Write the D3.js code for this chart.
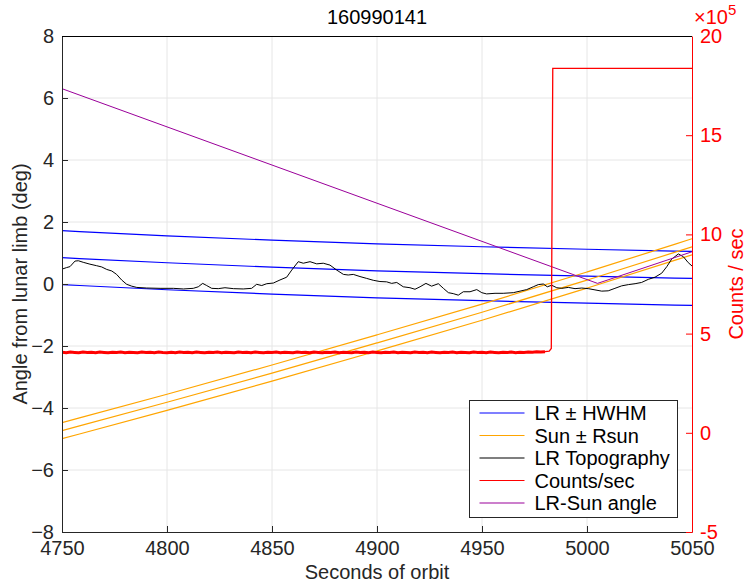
<!DOCTYPE html>
<html>
<head>
<meta charset="utf-8">
<script src="https://cdn.jsdelivr.net/npm/d3@7"></script>
<style>
    body { margin: 0; background: #fff; }
    #chart { width: 746px; height: 588px; }
    text { font-family: "Liberation Sans", Arial, Helvetica, sans-serif; }
</style>
</head>
<body>
<div id="chart"></div>
<script>

// ---- data ----
const chartTitle = "160990141";

const timeTicks = [4750, 4800, 4850, 4900, 4950, 5000, 5050];
const angleTicks = [-8, -6, -4, -2, 0, 2, 4, 6, 8];
const countTicks = [-5e5, 0, 5e5, 10e5, 15e5, 20e5];

// lunar limb (LR) centre and half width
const lrTime = [4750, 4800, 4850, 4900, 4950, 5000, 5050];
const lrCenter = [0.85, 0.68, 0.54, 0.42, 0.33, 0.25, 0.18];
const lrHwhm = 0.87;

// sun centre and radius
const sunTime = [4750, 4800, 4850, 4900, 4950, 5000, 5050];
const sunCenter = [-4.73, -3.82, -2.88, -1.90, -0.92, 0.12, 1.20];
const rSun = 0.26;

// LR topography
const topoTime = [4750, 4752.2, 4753.8, 4756.2, 4757.8, 4760.1, 4763.3, 4766.5, 4768.9, 4771.3,
    4773.7, 4776, 4778.4, 4780.8, 4783.2, 4785.6, 4790.3, 4796.7, 4803, 4807.8,
    4812.5, 4814.9, 4817, 4818.9, 4821.3, 4824.4, 4827.6, 4831.6, 4836.3, 4840.3,
    4842.7, 4845.1, 4847.5, 4850.6, 4853.8, 4857, 4859.4, 4862.5, 4864.9, 4868.1,
    4871.3, 4874.4, 4877.6, 4880.8, 4884, 4886.3, 4888.7, 4891.9, 4895.1, 4898.2,
    4901.4, 4904.6, 4907, 4909.4, 4912.5, 4915.7, 4918.1, 4920.5, 4923.3, 4926,
    4929.2, 4931.6, 4934, 4936.3, 4938.7, 4941.1, 4944.3, 4947.5, 4949.9, 4952.2,
    4956.2, 4960.1, 4964.9, 4968.1, 4971.3, 4974.4, 4976.8, 4979.2, 4981.1, 4983.2,
    4985.6, 4988, 4991.1, 4994.3, 4997.5, 5000.6, 5003.8, 5007, 5010.1, 5013.3,
    5016.5, 5019.7, 5022.9, 5026, 5029.2, 5032.4, 5035.6, 5038, 5040.3, 5043.5,
    5045.9, 5048.2, 5050];
const topoAngle = [0.48, 0.53, 0.56, 0.74, 0.75, 0.70, 0.64, 0.59, 0.55, 0.47,
    0.42, 0.31, 0.13, -0.01, -0.07, -0.11, -0.13, -0.14, -0.14, -0.16,
    -0.14, -0.09, 0.02, -0.05, -0.14, -0.15, -0.12, -0.15, -0.16, -0.14,
    -0.01, -0.05, 0.01, 0.03, 0.13, 0.22, 0.45, 0.72, 0.67, 0.72,
    0.65, 0.67, 0.61, 0.45, 0.31, 0.29, 0.31, 0.24, 0.18, 0.12,
    0.08, 0.07, 0.02, 0.05, -0.09, -0.12, -0.17, -0.09, 0.02, -0.07,
    0.01, -0.14, -0.28, -0.31, -0.36, -0.25, -0.25, -0.18, -0.28, -0.32,
    -0.30, -0.30, -0.28, -0.23, -0.18, -0.09, -0.02, 0.00, -0.09, -0.04,
    -0.12, -0.14, -0.11, -0.15, -0.13, -0.15, -0.19, -0.23, -0.22, -0.14,
    -0.06, -0.02, 0.01, 0.05, 0.15, 0.22, 0.35, 0.56, 0.80, 0.97,
    0.88, 0.69, 0.58];

// counts per second (right axis)
const countTime = [4750, 4752, 4754, 4756, 4758, 4760, 4762, 4764, 4766, 4768,
    4770, 4772, 4774, 4776, 4778, 4780, 4782, 4784, 4786, 4788,
    4790, 4792, 4794, 4796, 4798, 4800, 4802, 4804, 4806, 4808,
    4810, 4812, 4814, 4816, 4818, 4820, 4822, 4824, 4826, 4828,
    4830, 4832, 4834, 4836, 4838, 4840, 4842, 4844, 4846, 4848,
    4850, 4852, 4854, 4856, 4858, 4860, 4862, 4864, 4866, 4868,
    4870, 4872, 4874, 4876, 4878, 4880, 4882, 4884, 4886, 4888,
    4890, 4892, 4894, 4896, 4898, 4900, 4902, 4904, 4906, 4908,
    4910, 4912, 4914, 4916, 4918, 4920, 4922, 4924, 4926, 4928,
    4930, 4932, 4934, 4936, 4938, 4940, 4942, 4944, 4946, 4948,
    4950, 4952, 4954, 4956, 4958, 4960, 4962, 4964, 4966, 4968,
    4970, 4972, 4974, 4976, 4978, 4980, 4982, 4983,
    4983.7, 5050];
const countRate = [406000, 404000, 407000, 405000, 403000, 407000, 405000, 406000, 404000, 407000,
    405000, 403000, 406000, 405000, 407000, 404000, 406000, 405000, 403000, 407000,
    405000, 406000, 404000, 407000, 405000, 404000, 406000, 403000, 407000, 405000,
    406000, 404000, 407000, 405000, 403000, 406000, 405000, 407000, 404000, 406000,
    405000, 403000, 407000, 405000, 406000, 404000, 407000, 405000, 403000, 406000,
    405000, 407000, 404000, 406000, 405000, 403000, 407000, 405000, 406000, 404000,
    407000, 405000, 403000, 406000, 405000, 407000, 404000, 406000, 405000, 403000,
    407000, 405000, 406000, 404000, 407000, 405000, 403000, 406000, 405000, 407000,
    404000, 406000, 405000, 403000, 407000, 405000, 406000, 404000, 407000, 405000,
    403000, 406000, 405000, 407000, 404000, 406000, 405000, 403000, 407000, 405000,
    406000, 404000, 407000, 405000, 403000, 406000, 405000, 407000, 404000, 406000,
    405000, 407000, 406000, 408000, 407000, 409000, 412000, 425000,
    1837000, 1837000];

// LR-Sun angle
const angleTime = [4750, 5005, 5050];
const angleValue = [6.3, 0.02, 1.04];

const legendLabels = ["LR \u00b1 HWHM", "Sun \u00b1 Rsun", "LR Topography", "Counts/sec", "LR-Sun angle"];
const legendColors = ["#0000ff", "#ffa500", "#000000", "#ff0000", "#9a009a"];


class OrbitChart {
    constructor(_parentElement) {
        this.parentElement = _parentElement;
        this.initVis();
    }

    initVis() {
        let vis = this;

        vis.margin = { top: 36, right: 54, bottom: 56, left: 62 };
        vis.width = 746 - vis.margin.left - vis.margin.right;
        vis.height = 588 - vis.margin.top - vis.margin.bottom;

        vis.svg = d3.select("#" + vis.parentElement).append("svg")
            .attr("width", 746)
            .attr("height", 588)
            .append("g")
            .attr("transform", "translate(" + vis.margin.left + "," + vis.margin.top + ")");

        vis.x = d3.scaleLinear().domain([4750, 5050]).range([0, vis.width]);
        vis.y = d3.scaleLinear().domain([-8, 8]).range([vis.height, 0]);
        vis.yRight = d3.scaleLinear().domain([-5e5, 20e5]).range([vis.height, 0]);

        vis.svg.append("clipPath").attr("id", "plot-clip")
            .append("rect").attr("width", vis.width).attr("height", vis.height);

        vis.updateVis();
    }

    updateVis() {
        let vis = this;
        const axisGrey = "#262626";

        // grid
        vis.svg.append("g")
            .attr("class", "grid")
            .selectAll("line.vgrid")
            .data(timeTicks.slice(1, -1))
            .enter().append("line")
            .attr("x1", d => vis.x(d)).attr("x2", d => vis.x(d))
            .attr("y1", 0).attr("y2", vis.height)
            .attr("stroke", "#e6e6e6");
        vis.svg.select(".grid")
            .selectAll("line.hgrid")
            .data(angleTicks.slice(1, -1))
            .enter().append("line")
            .attr("x1", 0).attr("x2", vis.width)
            .attr("y1", d => vis.y(d)).attr("y2", d => vis.y(d))
            .attr("stroke", "#e6e6e6");

        let plot = vis.svg.append("g").attr("clip-path", "url(#plot-clip)");

        let smooth = d3.line()
            .x(d => vis.x(d[0]))
            .y(d => vis.y(d[1]))
            .curve(d3.curveBasis);
        let straight = d3.line()
            .x(d => vis.x(d[0]))
            .y(d => vis.y(d[1]));

        // LR +- HWHM
        [-lrHwhm, 0, lrHwhm].forEach(off => {
            plot.append("path")
                .datum(lrTime.map((t, i) => [t, lrCenter[i] + off]))
                .attr("d", smooth)
                .attr("fill", "none")
                .attr("stroke", legendColors[0])
                .attr("stroke-width", 1.2);
        });

        // Sun +- Rsun
        [-rSun, 0, rSun].forEach(off => {
            plot.append("path")
                .datum(sunTime.map((t, i) => [t, sunCenter[i] + off]))
                .attr("d", smooth)
                .attr("fill", "none")
                .attr("stroke", legendColors[1])
                .attr("stroke-width", 1.2);
        });

        // topography
        plot.append("path")
            .datum(topoTime.map((t, i) => [t, topoAngle[i]]))
            .attr("d", straight)
            .attr("fill", "none")
            .attr("stroke", legendColors[2])
            .attr("stroke-width", 1);

        // LR-Sun angle
        plot.append("path")
            .datum(angleTime.map((t, i) => [t, angleValue[i]]))
            .attr("d", straight)
            .attr("fill", "none")
            .attr("stroke", legendColors[4])
            .attr("stroke-width", 1);

        // counts (right axis)
        let countLine = d3.line()
            .x(d => vis.x(d[0]))
            .y(d => vis.yRight(d[1]));
        plot.append("path")
            .datum(countTime.map((t, i) => [t, countRate[i]]))
            .attr("d", countLine)
            .attr("fill", "none")
            .attr("stroke", legendColors[3])
            .attr("stroke-width", 1.3);
        // noisy band below the step
        plot.append("path")
            .datum(countTime.slice(0, countTime.length - 4).map((t, i) => [t, countRate[i]]))
            .attr("d", countLine)
            .attr("fill", "none")
            .attr("stroke", legendColors[3])
            .attr("stroke-width", 3);

        // axes
        let xAxis = d3.axisBottom(vis.x)
            .tickValues(timeTicks)
            .tickFormat(d3.format("d"))
            .tickSizeInner(-6).tickSizeOuter(0).tickPadding(9);
        let yAxis = d3.axisLeft(vis.y)
            .tickValues(angleTicks)
            .tickFormat(d3.format("d"))
            .tickSizeInner(-6).tickSizeOuter(0).tickPadding(8);
        let yAxisRight = d3.axisRight(vis.yRight)
            .tickValues(countTicks)
            .tickFormat(d => d / 1e5)
            .tickSizeInner(-6).tickSizeOuter(0).tickPadding(8);

        let gx = vis.svg.append("g")
            .attr("transform", "translate(0," + vis.height + ")")
            .call(xAxis);
        let gy = vis.svg.append("g").call(yAxis);
        let gr = vis.svg.append("g")
            .attr("transform", "translate(" + vis.width + ",0)")
            .call(yAxisRight);

        [gx, gy].forEach(g => {
            g.select(".domain").attr("stroke", axisGrey);
            g.selectAll(".tick line").attr("stroke", axisGrey);
            g.selectAll("text").attr("fill", axisGrey).style("font-size", "20px");
        });
        gr.select(".domain").attr("stroke", "#ff0000");
        gr.selectAll(".tick line").attr("stroke", "#ff0000");
        gr.selectAll("text").attr("fill", "#ff0000").style("font-size", "20px")
            .attr("text-anchor", "start");

        // top border
        vis.svg.append("line")
            .attr("x1", 0).attr("x2", vis.width)
            .attr("y1", 0.5).attr("y2", 0.5)
            .attr("stroke", "#000");

        // titles
        vis.svg.append("text")
            .attr("x", vis.width / 2).attr("y", -12)
            .attr("text-anchor", "middle")
            .style("font-size", "20px")
            .attr("fill", "#000")
            .text(chartTitle);

        vis.svg.append("text")
            .attr("x", vis.width / 2).attr("y", vis.height + 47)
            .attr("text-anchor", "middle")
            .style("font-size", "20px")
            .attr("fill", axisGrey)
            .text("Seconds of orbit");

        vis.svg.append("text")
            .attr("transform", "translate(-35," + (vis.height / 2) + ") rotate(-90)")
            .attr("text-anchor", "middle")
            .style("font-size", "20px")
            .attr("fill", axisGrey)
            .text("Angle from lunar limb (deg)");

        vis.svg.append("text")
            .attr("transform", "translate(" + (vis.width + 51) + "," + (vis.height / 2) + ") rotate(-90)")
            .attr("text-anchor", "middle")
            .style("font-size", "20px")
            .attr("fill", "#ff0000")
            .text("Counts / sec");

        // x10^5 exponent label
        let expo = vis.svg.append("text")
            .attr("x", vis.width + 2).attr("y", -12)
            .attr("fill", "#ff0000")
            .style("font-size", "20px");
        expo.append("tspan").text("\u00d710");
        expo.append("tspan").attr("dy", -9).style("font-size", "15px").text("5");

        // legend
        let legend = vis.svg.append("g")
            .attr("class", "legend")
            .attr("transform", "translate(" + (469.5 - vis.margin.left) + "," + (400.5 - vis.margin.top) + ")");

        legend.append("rect")
            .attr("width", 208).attr("height", 117)
            .attr("fill", "#fff")
            .attr("stroke", axisGrey);

        legendLabels.forEach(function (label, i) {
            let yy = 12.5 + i * 22.5;
            legend.append("line")
                .attr("x1", 10).attr("x2", 55)
                .attr("y1", yy).attr("y2", yy)
                .attr("stroke", legendColors[i])
                .attr("stroke-width", 1.2);
            legend.append("text")
                .attr("x", 65).attr("y", yy)
                .attr("dy", "0.35em")
                .style("font-size", "20px")
                .attr("fill", "#000")
                .text(label);
        });
    }
}

new OrbitChart("chart");
</script>
</body>
</html>
